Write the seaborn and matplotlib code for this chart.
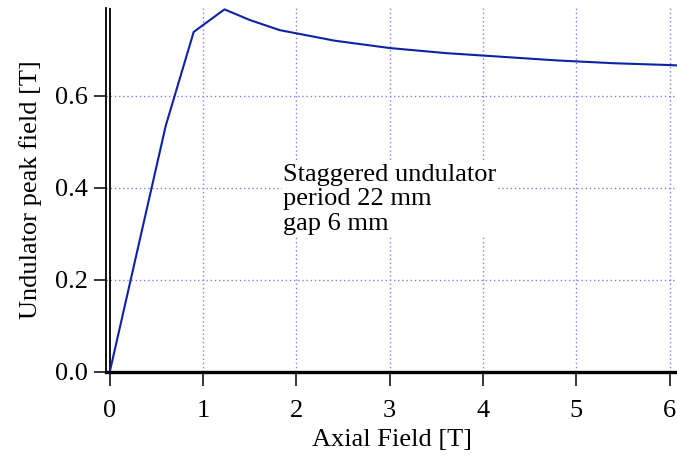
import numpy as np
import pandas as pd
import matplotlib
matplotlib.use("Agg")
import matplotlib.pyplot as plt
import seaborn as sns

sns.set_style("ticks")
plt.rcParams['font.family'] = ['Liberation Serif', 'DejaVu Serif']
plt.rcParams['text.color'] = 'black'
plt.rcParams['axes.labelcolor'] = 'black'
plt.rcParams['xtick.color'] = 'black'
plt.rcParams['ytick.color'] = 'black'

# データ
axial_field = [0.0, 0.6, 0.9, 1.23, 1.5, 1.82, 2.41, 3.0, 3.6, 4.2, 4.8, 5.4, 6.0, 6.1]
peak_field = [0.0, 0.535, 0.739, 0.788, 0.765, 0.743, 0.720, 0.704, 0.693, 0.685, 0.677, 0.671, 0.667, 0.666]
x_ticks = [0, 1, 2, 3, 4, 5, 6]
y_ticks = [0.0, 0.2, 0.4, 0.6]
y_tick_labels = ['0.0', '0.2', '0.4', '0.6']
note = "Staggered undulator\nperiod 22 mm\ngap 6 mm"

df = pd.DataFrame({'B_axial': axial_field, 'B_peak': peak_field})

fig = plt.figure(figsize=(6.77, 4.55), dpi=100)
ax = fig.add_axes([106 / 677, 1 - 372 / 455, 1 - 106 / 677, (372 - 8) / 455])

grid_kw = dict(color='#7f7fff', lw=1.0, linestyle=(0, (1, 2)), zorder=0)
for gx in x_ticks[1:]:
    ax.axvline(gx, **grid_kw)
for gy in y_ticks[1:]:
    ax.axhline(gy, **grid_kw)

sns.lineplot(data=df, x='B_axial', y='B_peak', color='#0d22a6', lw=1.5, ax=ax, zorder=3)
ax.axvline(0, color='black', lw=1.3, zorder=2)

ax.set_xlim(-0.04, 6.08)
ax.set_ylim(0, 0.791)
ax.set_xticks(x_ticks)
ax.set_yticks(y_ticks)
ax.set_yticklabels(y_tick_labels)

sns.despine(ax=ax, top=True, right=True)
ax.spines['left'].set_linewidth(1.3)
ax.spines['left'].set_color('black')
ax.spines['bottom'].set_linewidth(2.4)
ax.spines['bottom'].set_color('black')
ax.spines['bottom'].set_zorder(4)
ax.tick_params(axis='y', length=9, width=1.1, pad=4, labelsize=19)
ax.tick_params(axis='x', length=10, width=1.1, pad=10, labelsize=19)

ax.set_xlabel('Axial Field [T]', fontsize=19, labelpad=5)
ax.set_ylabel('Undulator peak field [T]', fontsize=19, labelpad=9)

ax.text(1.86, 0.453, note, fontsize=19, va='top', ha='left', linespacing=1.17,
        bbox=dict(facecolor='white', edgecolor='none', pad=1), zorder=5)

fig.savefig('out.png', dpi=100)
